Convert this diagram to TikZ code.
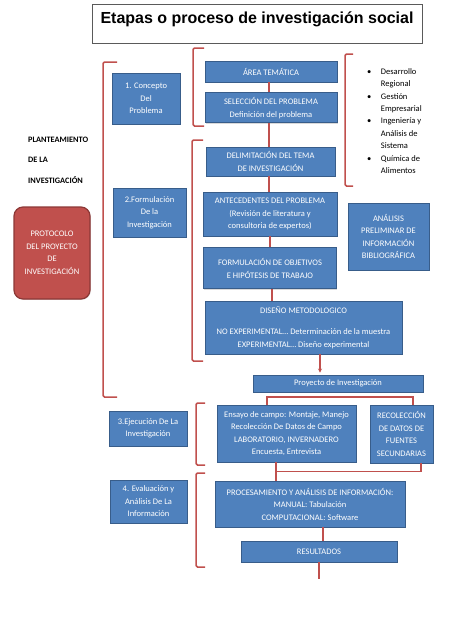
\documentclass[tikz,border=0pt]{standalone}
\usepackage{fontspec}
\setmainfont{Carlito}
\newfontfamily\titlefont{Liberation Sans}
\usetikzlibrary{arrows.meta, positioning, calc, shadows}
\definecolor{boxblue}{RGB}{79,129,189}
\definecolor{edgeblue}{RGB}{56,93,138}
\definecolor{bracketred}{RGB}{192,80,77}
\definecolor{edgered}{RGB}{140,56,54}
\definecolor{framegray}{RGB}{90,90,90}

\begin{document}
\begin{tikzpicture}[
        x=1pt, y=-1pt,
        box/.style={rectangle, draw=edgeblue, line width=0.9pt, fill=boxblue, text=white, align=center, inner sep=1pt, font=\fontsize{8.5}{12.5}\selectfont, drop shadow={opacity=0.3, shadow xshift=0.8pt, shadow yshift=-0.8pt}},
        protobox/.style={rectangle, rounded corners=9pt, draw=edgered, line width=1.2pt, fill=bracketred, text=white, align=center, inner sep=1pt, font=\fontsize{8.5}{12.5}\selectfont, drop shadow={opacity=0.3, shadow xshift=0.8pt, shadow yshift=-0.8pt}},
        titlebox/.style={rectangle, draw=framegray, line width=0.8pt, inner sep=0pt, minimum width=330pt, text height=19.5pt, text depth=19.5pt, font=\titlefont\bfseries\fontsize{16}{19}\selectfont},
        sidetext/.style={inner sep=0pt, align=left, font=\bfseries\fontsize{8.3}{20.5}\selectfont},
        listtext/.style={inner sep=0pt, font=\fontsize{8.5}{12.45}\selectfont},
        bracket/.style={draw=bracketred, line width=1.5pt, rounded corners=1.5pt},
        link/.style={draw=bracketred, line width=1.4pt}
    ]
        \useasboundingbox (0,0) rectangle (474,632);

        \node[titlebox] (titulo) at (257,23.5) {Etapas o proceso de investigación social};

        % column of stages
        \node[box, minimum width=68pt, minimum height=51pt] (concepto) at (146,98.5) {1. Concepto\\Del\\Problema};
        \node[box, minimum width=73pt, minimum height=49pt] (formulacion) at (149.5,212.5) {2.Formulación\\De la\\Investigación};
        \node[box, minimum width=78pt, minimum height=35pt] (ejecucion) at (148,428.5) {3.Ejecución De La\\Investigación};
        \node[box, minimum width=77pt, minimum height=43pt] (evaluacion) at (148.5,501.5) {4. Evaluación y\\Análisis De La\\Información};

        \node[sidetext, anchor=west] (planteamiento) at (28,160) {PLANTEAMIENTO\\DE LA\\INVESTIGACIÓN};
        \node[protobox, minimum width=76pt, minimum height=92pt] (protocolo) at (52,253) {PROTOCOLO\\DEL PROYECTO\\DE\\INVESTIGACIÓN};

        % main flow
        \node[box, minimum width=132pt, minimum height=21pt] (area) at (271,71.5) {ÁREA TEMÁTICA};
        \node[box, minimum width=132pt, minimum height=30pt, below=10pt of area] (seleccion) {SELECCIÓN DEL PROBLEMA\\Definición del problema};
        \node[box, minimum width=129pt, minimum height=29pt] (delimitacion) at (270.5,161.5) {DELIMITACIÓN DEL TEMA\\DE INVESTIGACIÓN};
        \node[box, minimum width=134pt, minimum height=44pt] (antecedentes) at (270,214) {ANTECEDENTES DEL PROBLEMA\\(Revisión de literatura y\\consultoria de expertos)};
        \node[box, minimum width=133pt, minimum height=41pt, below=11pt of antecedentes] (objetivos) {FORMULACIÓN DE OBJETIVOS\\E HIPÓTESIS DE TRABAJO};
        \node[box, minimum width=81pt, minimum height=67pt] (analisis) at (388.5,236.5) {ANÁLISIS\\PRELIMINAR DE\\INFORMACIÓN\\BIBLIOGRÁFICA};
        \node[box, minimum width=197pt, minimum height=53pt] (diseno) at (303.5,327.5) {DISEÑO METODOLOGICO\\[9pt]NO EXPERIMENTAL… Determinación de la muestra\\EXPERIMENTAL… Diseño experimental};
        \node[box, minimum width=170pt, minimum height=17pt] (proyecto) at (338,383.5) {Proyecto de Investigación};
        \node[box, minimum width=139pt, minimum height=57pt] (ensayo) at (286.5,433.5) {Ensayo de campo: Montaje, Manejo\\Recolección De Datos de Campo\\LABORATORIO, INVERNADERO\\Encuesta, Entrevista};
        \node[box, minimum width=63pt, minimum height=58pt] (fuentes) at (401.5,434) {RECOLECCIÓN\\DE DATOS DE\\FUENTES\\SECUNDARIAS};
        \node[box, minimum width=190pt, minimum height=46pt] (procesamiento) at (310,504) {PROCESAMIENTO Y ANÁLISIS DE INFORMACIÓN:\\MANUAL: Tabulación\\COMPUTACIONAL: Software};
        \node[box, minimum width=156pt, minimum height=21pt] (resultados) at (319,551.5) {RESULTADOS};

        \node[listtext, anchor=north west] (temas) at (367,65.2) {\begin{tabular}{@{}l@{\hspace{9.5pt}}l@{}}
            \textbullet & Desarrollo\\ & Regional\\
            \textbullet & Gestión\\ & Empresarial\\
            \textbullet & Ingeniería y\\ & Análisis de\\ & Sistema\\
            \textbullet & Química de\\ & Alimentos
        \end{tabular}};

        % brackets
        \draw[bracket] (117,62) -- (103,62) -- (103,397) -- (117,397);
        \draw[bracket] (204,48) -- (193,48) -- (193,126) -- (204,126);
        \draw[bracket] (353,54) -- (345,54) -- (345,186) -- (353,186);
        \draw[bracket] (203,140) -- (192,140) -- (192,361) -- (203,361);
        \draw[bracket] (205,403) -- (196,403) -- (196,465) -- (205,465);
        \draw[bracket] (205,473) -- (196,473) -- (196,567) -- (205,567);

        % connectors
        \coordinate (split) at ($(proyecto.south)+(0,4.5)$);
        \coordinate (join) at ($(ensayo.south)!0.5!(procesamiento.north)$);
        \coordinate (tail) at ($(resultados.south)+(0,17)$);
        \draw[link] ([xshift=-2pt]area.south) -- ([xshift=-2pt]area.south |- seleccion.north);
        \draw[link] ([xshift=-2pt]seleccion.south) -- ([xshift=-2pt]seleccion.south |- delimitacion.north);
        \draw[link] ([xshift=-1.5pt]delimitacion.south) -- ([xshift=-1.5pt]delimitacion.south |- antecedentes.north);
        \draw[link] (antecedentes.south) -- (antecedentes.south |- objetivos.north);
        \draw[link] ([xshift=2pt]objetivos.south) -- ([xshift=2pt]objetivos.south |- diseno.north);
        \draw[link, -{Stealth[length=4pt, width=4pt]}, shorten >=2pt] ([xshift=16.5pt]diseno.south) -- ([xshift=16.5pt]diseno.south |- proyecto.north);
        \draw[link] ([xshift=-19.5pt]ensayo.north) |- (split) -| ([xshift=11.5pt]fuentes.north);
        \draw[link] ([xshift=-10.5pt]ensayo.south) |- (join) -| ([xshift=19.5pt]fuentes.south);
        \draw[link] ([xshift=-10.5pt]ensayo.south) -- ([xshift=-10.5pt]ensayo.south |- procesamiento.north);
        \draw[link] ([xshift=13pt]procesamiento.south) -- ([xshift=13pt]procesamiento.south |- resultados.north);
        \draw[link] (resultados.south) -- (tail);
    \end{tikzpicture}
\end{document}
